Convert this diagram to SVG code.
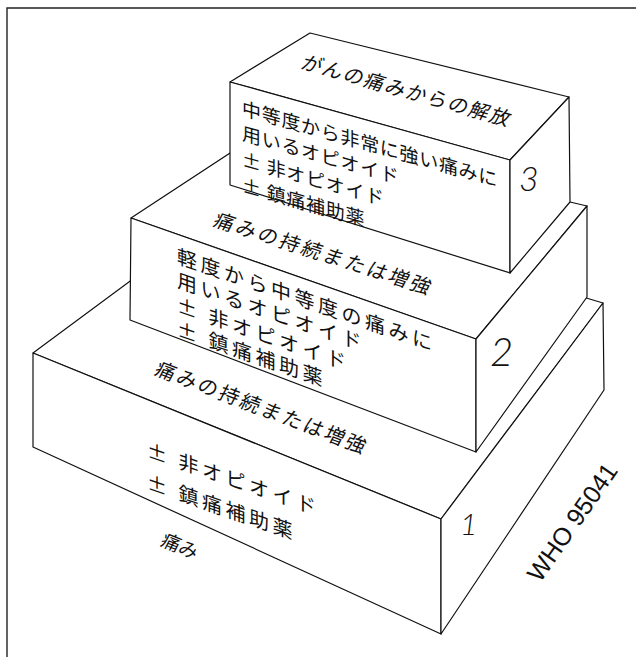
<svg xmlns="http://www.w3.org/2000/svg" width="636" height="657" viewBox="0 0 636 657">
<style>
.face{fill:#fff;stroke:#111;stroke-width:1.2;stroke-linejoin:round}
.frame{fill:none;stroke:#222;stroke-width:1.4}
.jp{font-family:"Noto Sans CJK JP","Noto Sans CJK SC",sans-serif;fill:#111}
.num{font-family:"Lato","Liberation Sans",sans-serif;font-style:italic;font-weight:300;fill:#111}
.who{font-family:"Liberation Sans",Arial,sans-serif;fill:#111;font-size:25px}
</style>
<rect width="636" height="657" fill="#fff"/>
<g id="frame">
<polyline class="frame" points="7,657 7,8 636,8"/>
</g>
<g id="box1">
<polygon class="face" points="33,353 245,196 603,303 441,519"/>
<polygon class="face" points="33,353 441,519 441,634 33,447"/>
<polygon class="face" points="441,519 603,303 604,390 441,634"/>
<g transform="translate(262,408) matrix(0.934,0.357,-0.45,0.89,0,0)">
<text class="jp" font-size="20" letter-spacing="2.6" text-anchor="middle" y="7">痛みの持続または増強</text>
</g>
<g transform="translate(147,457) skewY(19)">
<text class="jp" font-size="20" letter-spacing="3.5"><tspan x="0" y="0">± 非オピオイド</tspan><tspan x="0" y="32">± 鎮痛補助薬</tspan></text>
</g>
<text class="num" font-size="30" x="460" y="535">1</text>
</g>
<g id="pain">
<g transform="translate(180,546) matrix(0.927,0.375,-0.45,0.89,0,0)">
<text class="jp" font-size="19" text-anchor="middle" y="7">痛み</text>
</g>
</g>
<g id="box2">
<polygon class="face" points="131,218 265,130 587,206 476,339"/>
<polygon class="face" points="131,218 476,339 476,452 130,320"/>
<polygon class="face" points="476,339 587,206 587,297 476,452"/>
<g transform="translate(324,254) matrix(0.952,0.306,-0.45,0.89,0,0)">
<text class="jp" font-size="20" letter-spacing="2.9" text-anchor="middle" y="7">痛みの持続または増強</text>
</g>
<g transform="translate(177,263) skewY(19)">
<text class="jp" font-size="20" letter-spacing="3.5"><tspan x="0" y="0">軽度から中等度の痛みに</tspan><tspan x="0" y="24">用いるオピオイド</tspan><tspan x="0" y="49">± 非オピオイド</tspan><tspan x="0" y="73">± 鎮痛補助薬</tspan></text>
</g>
<text class="num" font-size="40" x="490" y="366">2</text>
</g>
<g id="box3">
<polygon class="face" points="230,82 310,33 569,97 510,160"/>
<polygon class="face" points="230,82 510,160 510,273 230,185"/>
<polygon class="face" points="510,160 569,97 570,202 510,273"/>
<g transform="translate(407,91) matrix(0.963,0.27,-0.45,0.89,0,0)">
<text class="jp" font-size="20" letter-spacing="1.7" text-anchor="middle" y="7">がんの痛みからの解放</text>
</g>
<g transform="translate(242,115) skewY(15.7)">
<text class="jp" font-size="19" letter-spacing="0.7"><tspan x="0" y="0">中等度から非常に強い痛みに</tspan><tspan x="0" y="25">用いるオピオイド</tspan><tspan x="0" y="51">± 非オピオイド</tspan><tspan x="0" y="77">± 鎮痛補助薬</tspan></text>
</g>
<text class="num" font-size="34" x="519" y="191">3</text>
</g>
<g id="who">
<text class="who" transform="translate(572,522) rotate(-55)" text-anchor="middle" y="9">WHO 95041</text>
</g>
</svg>
